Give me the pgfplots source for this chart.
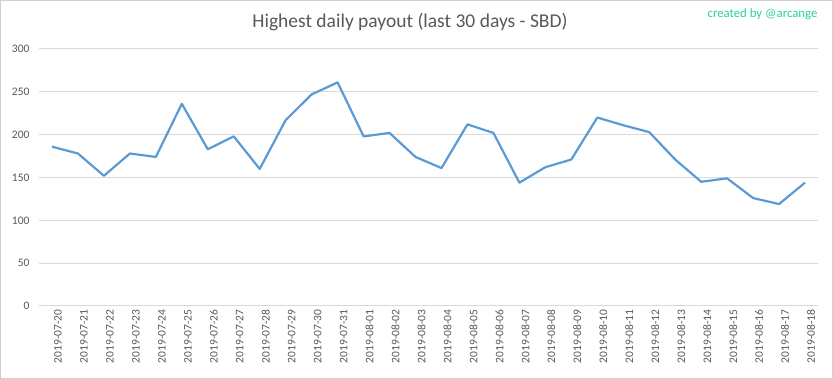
\documentclass[border=0pt]{standalone}
\usepackage{fontspec}
\setmainfont{Carlito}
\usepackage{pgfplots}
\pgfplotsset{compat=1.18}
\definecolor{txt}{HTML}{595959}
\definecolor{grd}{HTML}{D9D9D9}
\definecolor{ln}{HTML}{5B9BD5}
\definecolor{teal2}{HTML}{2BCFA5}
\definecolor{frm}{HTML}{D0D0D0}
\begin{document}
\begin{tikzpicture}[x=1pt,y=1pt]
\useasboundingbox (0,0) rectangle (833,379);
\fill[white] (0,0) rectangle (833,379);
\draw[frm, line width=1pt] (0.5,0.5) rectangle (832.5,378.5);
\begin{axis}[
  at={(39pt,73pt)}, anchor=south west,
  scale only axis, width=779pt, height=257pt,
  xmin=-0.5, xmax=29.5, ymin=0, ymax=300,
  ytick={0,50,...,300},
  xtick={0,...,29},
  xticklabels={2019-07-20,2019-07-21,2019-07-22,2019-07-23,2019-07-24,2019-07-25,2019-07-26,2019-07-27,2019-07-28,2019-07-29,2019-07-30,2019-07-31,2019-08-01,2019-08-02,2019-08-03,2019-08-04,2019-08-05,2019-08-06,2019-08-07,2019-08-08,2019-08-09,2019-08-10,2019-08-11,2019-08-12,2019-08-13,2019-08-14,2019-08-15,2019-08-16,2019-08-17,2019-08-18},
  ymajorgrids, grid style={grd, line width=1pt},
  axis line style={draw=none},
  major tick length=0pt,
  /pgf/number format/assume math mode=true,
  ticklabel style={font=\fontsize{11.5}{13}\selectfont, text=txt},
  yticklabel style={anchor=east, xshift=-6pt},
  xticklabel style={rotate=90, anchor=east, yshift=-6pt},
  clip=false,
]
\addplot[ln, line width=2.2pt, line join=round] coordinates {
(0,186) (1,178) (2,152) (3,178) (4,174) (5,236) (6,183) (7,198) (8,160) (9,217)
(10,247) (11,261) (12,198) (13,202) (14,174) (15,161) (16,212) (17,202) (18,144) (19,162)
(20,171) (21,220) (22,211) (23,203) (24,171) (25,145) (26,149) (27,126) (28,119) (29,144)
};
\end{axis}
\node[text=txt, font=\fontsize{19.5}{23}\selectfont] at (410,357) {Highest daily payout (last 30 days - SBD)};
\node[text=teal2, font=\fontsize{12.8}{15}\selectfont, anchor=east] at (821,365) {created by @arcange};
\end{tikzpicture}
\end{document}
